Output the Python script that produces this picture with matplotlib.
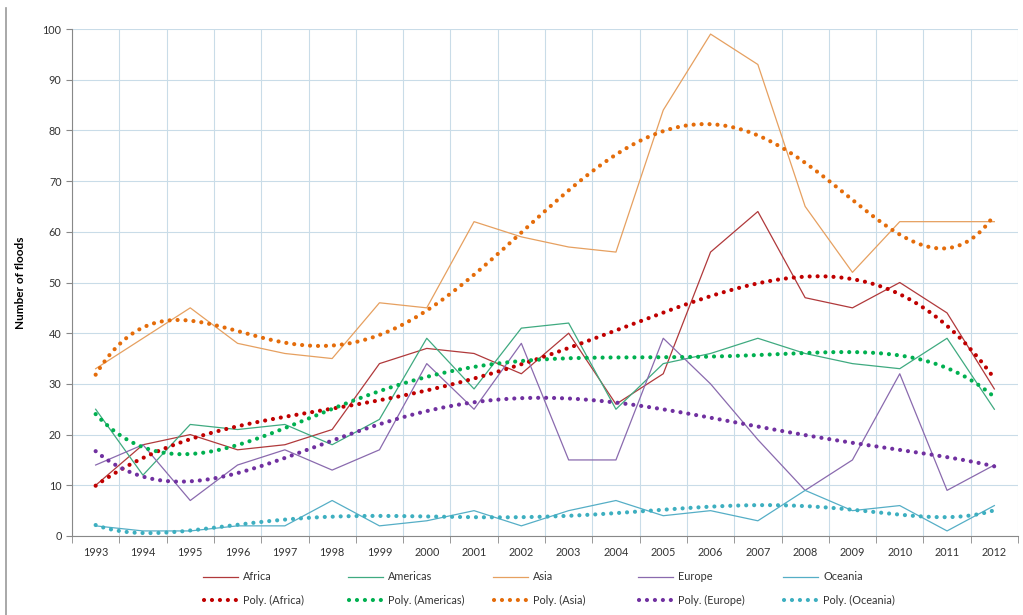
import numpy as np
import matplotlib
matplotlib.use("Agg")
import matplotlib.pyplot as plt
from matplotlib.lines import Line2D

plt.rcParams['font.family'] = ['Lato', 'DejaVu Sans']

years = list(range(1993, 2013))
africa = [10, 18, 20, 17, 18, 21, 34, 37, 36, 32, 40, 26, 32, 56, 64, 47, 45, 50, 44, 29]
americas = [25, 12, 22, 21, 22, 18, 23, 39, 29, 41, 42, 25, 34, 36, 39, 36, 34, 33, 39, 25]
asia = [33, 39, 45, 38, 36, 35, 46, 45, 62, 59, 57, 56, 84, 99, 93, 65, 52, 62, 62, 62]
europe = [14, 18, 7, 14, 17, 13, 17, 34, 25, 38, 15, 15, 39, 30, 19, 9, 15, 32, 9, 14]
oceania = [2, 1, 1, 2, 2, 7, 2, 3, 5, 2, 5, 7, 4, 5, 3, 9, 5, 6, 1, 6]

names = ["Africa", "Americas", "Asia", "Europe", "Oceania"]
series = [africa, americas, asia, europe, oceania]
trend_orders = [4, 5, 5, 5, 6]   # Excel polynomial trendline order per series
line_cols = ["#B0393B", "#3FAA80", "#E6A060", "#8A6AAE", "#55AEC6"]
trend_cols = ["#C00000", "#00B050", "#E46C0A", "#7030A0", "#3DAFC0"]

W, H = 1023, 615
fig = plt.figure(figsize=(W / 100, H / 100), dpi=100)
ax = fig.add_axes([72 / W, 1 - 536 / H, 946 / W, 507 / H])

dot_style = dict(lw=3.0, linestyle=(0, (0.01, 1.9)), dash_capstyle="round")

x = np.arange(len(years))
xf = np.linspace(0, len(years) - 1, 400)
for name, vals, deg, lc, tc in zip(names, series, trend_orders, line_cols, trend_cols):
    ax.plot(x, vals, color=lc, lw=0.9, zorder=3)
    coef = np.polyfit(x + 1, vals, deg)
    ax.plot(xf, np.polyval(coef, xf + 1), color=tc, zorder=4, **dot_style)

ax.set_xlim(-0.5, len(years) - 0.5)
ax.set_ylim(0, 100)
ax.set_yticks(range(0, 101, 10))
ax.set_xticks(x)
ax.set_xticklabels([str(y) for y in years])
ax.set_xticks(np.arange(-0.5, len(years), 1), minor=True)
ax.tick_params(axis="x", which="major", length=0, labelsize=7.8, pad=8, colors="#333333")
ax.tick_params(axis="x", which="minor", length=5, color="#888888", direction="out")
ax.tick_params(axis="y", length=4, color="#888888", labelsize=7.8, colors="#333333")
ax.grid(axis="x", which="minor", color="#C9DCE8", lw=0.8)
ax.grid(axis="y", which="major", color="#C9DCE8", lw=0.8)
ax.set_axisbelow(True)
for s in ["top", "right"]:
    ax.spines[s].set_visible(False)
for s in ["left", "bottom"]:
    ax.spines[s].set_color("#888888")
ax.set_ylabel("Number of floods", fontsize=8.5, fontweight="bold", labelpad=12)

# legend laid out like Excel: fixed column pitch, two rows
for i, (name, lc, tc) in enumerate(zip(names, line_cols, trend_cols)):
    x0 = 203 + 145 * i
    fig.add_artist(Line2D([x0 / W, (x0 + 35) / W], [1 - 577 / H] * 2, color=lc, lw=0.9))
    fig.text((x0 + 40) / W, 1 - 577 / H, name, fontsize=7.8, color="#333333", va="center")
    fig.add_artist(Line2D([(x0 + 1) / W, (x0 + 37) / W], [1 - 600 / H] * 2, color=tc, **dot_style))
    fig.text((x0 + 40) / W, 1 - 600 / H, f"Poly. ({name})", fontsize=7.8, color="#333333", va="center")

# left frame line
fig.add_artist(Line2D([6 / W, 6 / W], [0, 1 - 8 / H], color="#999999", lw=1.2))

fig.savefig("out.png", dpi=100)
